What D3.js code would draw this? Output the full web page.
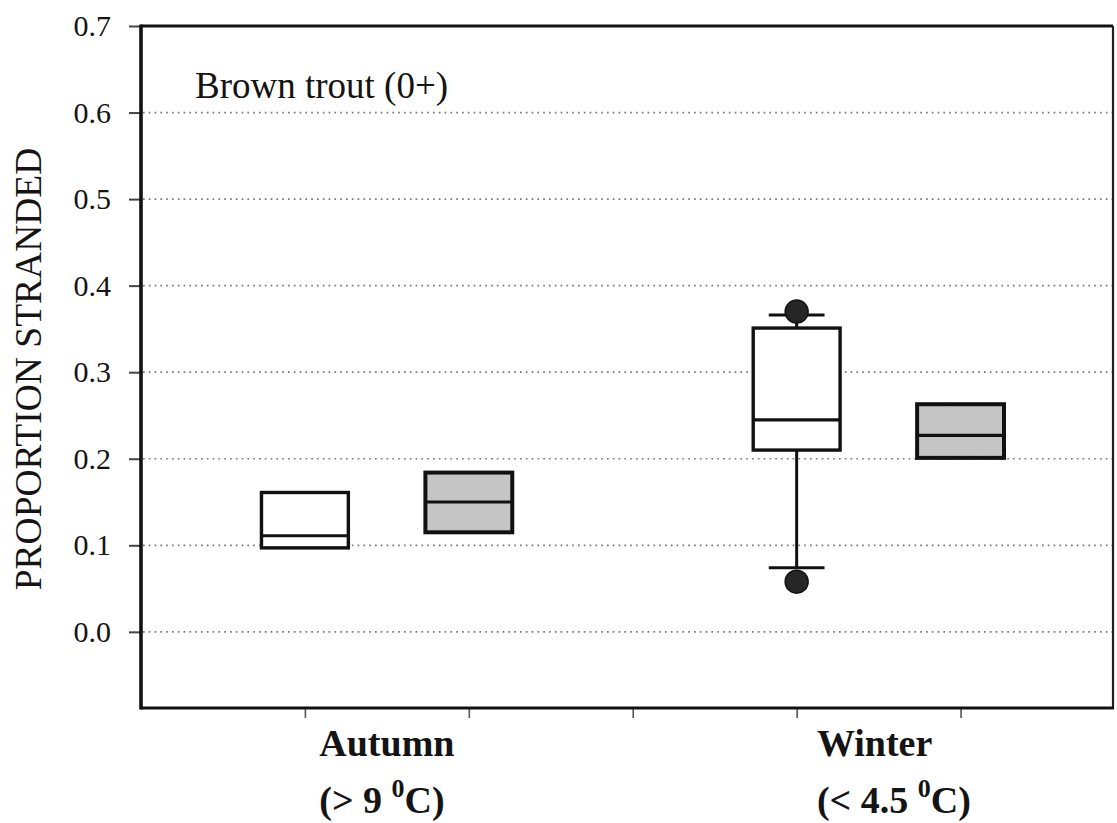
<!DOCTYPE html>
<html>
<head>
<meta charset="utf-8">
<script src="https://cdn.jsdelivr.net/npm/d3@7/dist/d3.min.js"></script>
<style>
  html, body { margin: 0; padding: 0; background: #fff; }
  svg { display: block; }
  text { font-family: "Liberation Serif", "Times New Roman", Times, serif; fill: #141414; }
</style>
</head>
<body>
<svg id="chart" width="1117" height="823"></svg>
<script>
// Stranding of 0+ brown trout by season, two treatments per season
const seasons = ["Autumn", "Winter"];
const seasonTemps = ["> 9 ", "< 4.5 "];
const seasonSlots = [[1, 2], [4, 5]];

const boxSlot   = [1, 2, 4, 5];
const boxKind   = ["open", "shaded", "open", "shaded"];
const boxQ1     = [0.097, 0.115, 0.210, 0.201];
const boxMedian = [0.111, 0.150, 0.245, 0.227];
const boxQ3     = [0.161, 0.184, 0.351, 0.263];
const whiskerLow  = [null, null, 0.074, null];
const whiskerHigh = [null, null, 0.366, null];

const outlierSlot  = [4, 4];
const outlierValue = [0.370, 0.058];

const yTicks = [0.0, 0.1, 0.2, 0.3, 0.4, 0.5, 0.6, 0.7];
const xTicks = [1, 2, 3, 4, 5];

const svg = d3.select("#chart");
const plotLeft = 141, plotRight = 1113, plotTop = 26, plotBottom = 708;

const x = d3.scaleLinear().domain([0, 5.93]).range([plotLeft, plotRight]);
const y = d3.scaleLinear().domain([-0.088, 0.7]).range([plotBottom, plotTop]);

const boxHalf = 0.265;  // half box width in slot units
const capHalf = 0.17;

// dotted gridlines
svg.append("g")
  .selectAll("line")
  .data(yTicks.filter(v => v < 0.7))
  .join("line")
  .attr("x1", plotLeft + 2).attr("x2", plotRight)
  .attr("y1", d => y(d)).attr("y2", d => y(d))
  .attr("stroke", "#7a7a7a")
  .attr("stroke-width", 1.7)
  .attr("stroke-dasharray", "1.7,4.1");

// y axis
const yAxis = svg.append("g")
  .attr("transform", `translate(${plotLeft},0)`)
  .call(d3.axisLeft(y).tickValues(yTicks).tickFormat(d3.format(".1f")).tickSize(12).tickPadding(18));
yAxis.select(".domain").remove();
yAxis.selectAll(".tick line").attr("stroke", "#444").attr("stroke-width", 2);
yAxis.selectAll(".tick text")
  .style("font-size", "30px")
  .style("font-family", "'Liberation Serif', 'Times New Roman', serif")
  .attr("fill", "#141414");

// x axis ticks
const xAxis = svg.append("g")
  .attr("transform", `translate(0,${plotBottom})`)
  .call(d3.axisBottom(x).tickValues(xTicks).tickFormat("").tickSize(10));
xAxis.select(".domain").remove();
xAxis.selectAll(".tick line").attr("stroke", "#555").attr("stroke-width", 1.6);

// plot frame
svg.append("line").attr("x1", plotLeft).attr("x2", plotRight).attr("y1", plotTop).attr("y2", plotTop)
  .attr("stroke", "#111").attr("stroke-width", 3);
svg.append("line").attr("x1", plotRight).attr("x2", plotRight).attr("y1", plotTop).attr("y2", plotBottom)
  .attr("stroke", "#222").attr("stroke-width", 2.2);
svg.append("line").attr("x1", plotLeft).attr("x2", plotLeft).attr("y1", plotTop - 1.5).attr("y2", plotBottom + 1.5)
  .attr("stroke", "#111").attr("stroke-width", 3.6);
svg.append("line").attr("x1", plotLeft).attr("x2", plotRight + 1).attr("y1", plotBottom).attr("y2", plotBottom)
  .attr("stroke", "#111").attr("stroke-width", 3.2);

// grain for shaded box interiors
const defs = svg.append("defs");
const grain = defs.append("filter").attr("id", "grain")
  .attr("x", 0).attr("y", 0).attr("width", 1).attr("height", 1);
grain.append("feTurbulence").attr("type", "fractalNoise").attr("baseFrequency", 0.9)
  .attr("numOctaves", 2).attr("seed", 3).attr("result", "noise");
grain.append("feColorMatrix").attr("in", "noise").attr("type", "matrix")
  .attr("values", "0 0 0 0 0.55  0 0 0 0 0.55  0 0 0 0 0.55  0 0 0 -1.6 1.0")
  .attr("result", "speck");
grain.append("feComposite").attr("in", "speck").attr("in2", "SourceGraphic").attr("operator", "in")
  .attr("result", "speckIn");
grain.append("feMerge").selectAll("feMergeNode").data(["SourceGraphic", "speckIn"])
  .join("feMergeNode").attr("in", d => d);

const boxes = boxSlot.map((s, i) => ({
  slot: s, kind: boxKind[i], q1: boxQ1[i], med: boxMedian[i], q3: boxQ3[i],
  lo: whiskerLow[i], hi: whiskerHigh[i]
}));

const g = svg.append("g");

// whiskers
boxes.filter(b => b.lo !== null).forEach(b => {
  g.append("line").attr("x1", x(b.slot)).attr("x2", x(b.slot))
    .attr("y1", y(b.q1)).attr("y2", y(b.lo)).attr("stroke", "#111").attr("stroke-width", 3);
  g.append("line").attr("x1", x(b.slot - capHalf)).attr("x2", x(b.slot + capHalf))
    .attr("y1", y(b.lo)).attr("y2", y(b.lo)).attr("stroke", "#111").attr("stroke-width", 3);
});
boxes.filter(b => b.hi !== null).forEach(b => {
  g.append("line").attr("x1", x(b.slot)).attr("x2", x(b.slot))
    .attr("y1", y(b.q3)).attr("y2", y(b.hi)).attr("stroke", "#111").attr("stroke-width", 3);
  g.append("line").attr("x1", x(b.slot - capHalf)).attr("x2", x(b.slot + capHalf))
    .attr("y1", y(b.hi)).attr("y2", y(b.hi)).attr("stroke", "#111").attr("stroke-width", 3);
});

// box interiors
g.selectAll("rect.fill")
  .data(boxes)
  .join("rect")
  .attr("class", "fill")
  .attr("x", d => x(d.slot - boxHalf))
  .attr("width", d => x(d.slot + boxHalf) - x(d.slot - boxHalf))
  .attr("y", d => y(d.q3))
  .attr("height", d => y(d.q1) - y(d.q3))
  .attr("fill", d => d.kind === "shaded" ? "#c6c6c6" : "#ffffff")
  .attr("filter", d => d.kind === "shaded" ? "url(#grain)" : null);

// box outlines
g.selectAll("rect.outline")
  .data(boxes)
  .join("rect")
  .attr("class", "outline")
  .attr("x", d => x(d.slot - boxHalf))
  .attr("width", d => x(d.slot + boxHalf) - x(d.slot - boxHalf))
  .attr("y", d => y(d.q3))
  .attr("height", d => y(d.q1) - y(d.q3))
  .attr("fill", "none")
  .attr("stroke", "#111")
  .attr("stroke-width", d => d.kind === "shaded" ? 4 : 3.4);

// medians
g.selectAll("line.median")
  .data(boxes)
  .join("line")
  .attr("class", "median")
  .attr("x1", d => x(d.slot - boxHalf))
  .attr("x2", d => x(d.slot + boxHalf))
  .attr("y1", d => y(d.med))
  .attr("y2", d => y(d.med))
  .attr("stroke", "#111")
  .attr("stroke-width", 3.2);

// outliers
g.selectAll("circle.outlier")
  .data(outlierSlot.map((s, i) => ({ slot: s, v: outlierValue[i] })))
  .join("circle")
  .attr("class", "outlier")
  .attr("cx", d => x(d.slot))
  .attr("cy", d => y(d.v))
  .attr("r", 11.5)
  .attr("fill", "#262626")
  .attr("stroke", "#111")
  .attr("stroke-width", 1.5);

// panel label
svg.append("text")
  .attr("x", 195).attr("y", 98)
  .style("font-size", "37px")
  .text("Brown trout (0+)");

// y axis title
svg.append("text")
  .attr("transform", `translate(41,369) rotate(-90)`)
  .attr("text-anchor", "middle")
  .style("font-size", "37.5px")
  .attr("fill", "#222")
  .text("PROPORTION STRANDED");

// season labels, two lines sharing a left edge
seasons.forEach((name, i) => {
  const mid = (x(seasonSlots[i][0]) + x(seasonSlots[i][1])) / 2 - (i === 1 ? 4 : 0);
  const t1 = svg.append("text")
    .attr("x", mid).attr("y", 756)
    .attr("text-anchor", "middle")
    .style("font-size", "38px").style("font-weight", "bold")
    .text(name);
  const w = t1.node().getComputedTextLength();
  const t2 = svg.append("text")
    .attr("x", mid - w / 2).attr("y", 813)
    .style("font-size", "38px").style("font-weight", "bold");
  t2.append("tspan").text("(" + seasonTemps[i]);
  t2.append("tspan").attr("dy", -16).style("font-size", "26px").text("0");
  t2.append("tspan").attr("dy", 16).text("C)");
});
</script>
</body>
</html>
